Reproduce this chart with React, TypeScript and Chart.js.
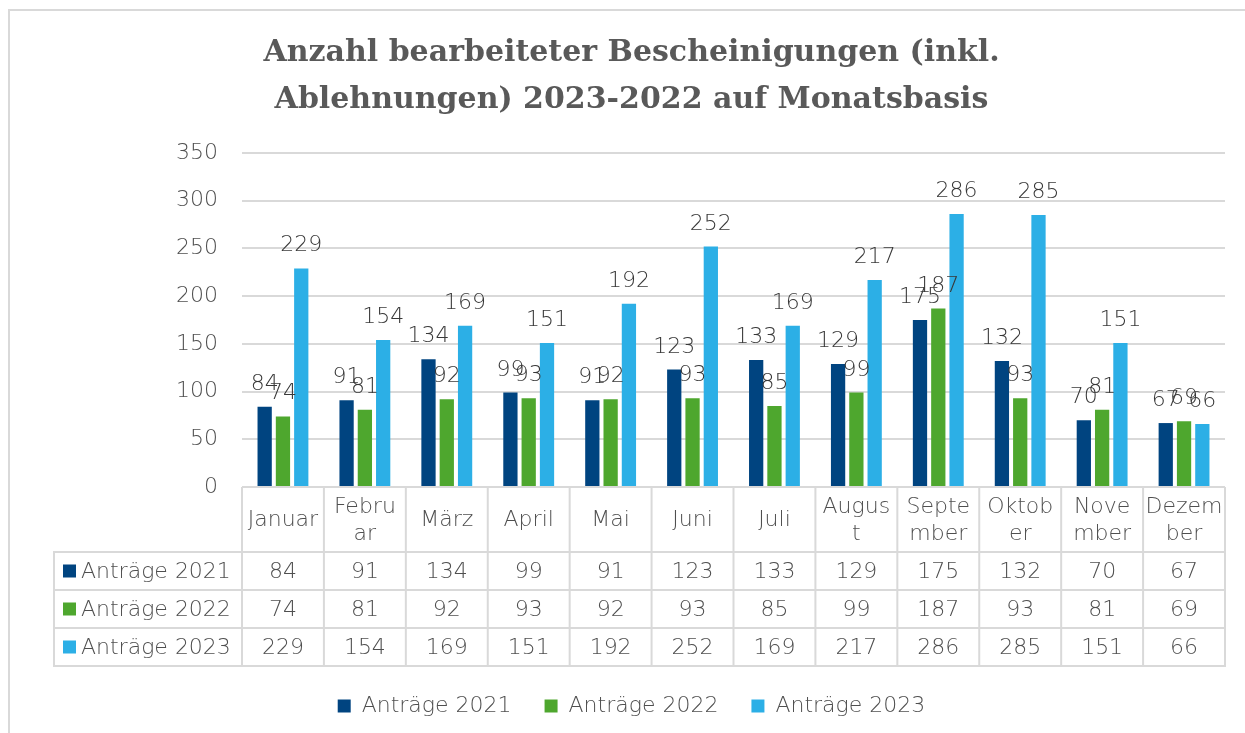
import React, { useEffect, useRef } from 'react';
import { Chart, registerables } from 'chart.js';

Chart.register(...registerables);

const titleLines = ['Anzahl bearbeiteter Bescheinigungen (inkl.', 'Ablehnungen) 2023-2022 auf Monatsbasis'];
const months = [
  ['Januar'], ['Febru', 'ar'], ['März'], ['April'], ['Mai'], ['Juni'], ['Juli'],
  ['Augus', 't'], ['Septe', 'mber'], ['Oktob', 'er'], ['Nove', 'mber'], ['Dezem', 'ber'],
];
const seriesNames = ['Anträge 2021', 'Anträge 2022', 'Anträge 2023'];
const antraege2021 = [84, 91, 134, 99, 91, 123, 133, 129, 175, 132, 70, 67];
const antraege2022 = [74, 81, 92, 93, 92, 93, 85, 99, 187, 93, 81, 69];
const antraege2023 = [229, 154, 169, 151, 192, 252, 169, 217, 286, 285, 151, 66];
const seriesColors = ['#004480', '#4ea72e', '#2cafe6'];
const yMin = 0;
const yMax = 350;
const yStep = 50;

const FONT = 'DejaVu Sans';
const W = '200';
const FS = 22;
const TEXT = '#4f4f4f';
const GRID = '#d9d9d9';
const HEADER_H = 65;
const ROW_H = 38;
const LABEL_COL = 188;

const dataLabelPlugin = {
  id: 'dataLabels',
  afterDatasetsDraw(chart: any) {
    const { ctx } = chart;
    ctx.save();
    ctx.font = `${W} ${FS}px "${FONT}"`;
    ctx.fillStyle = '#383838';
    ctx.textAlign = 'center';
    ctx.textBaseline = 'alphabetic';
    chart.data.datasets.forEach((ds: any, di: number) => {
      const meta = chart.getDatasetMeta(di);
      meta.data.forEach((bar: any, i: number) => {
        ctx.fillText(String(ds.data[i]), bar.x, bar.y - 17);
      });
    });
    ctx.restore();
  },
};

const dataTablePlugin = {
  id: 'dataTable',
  afterDraw(chart: any) {
    const { ctx, chartArea } = chart;
    const xs = chart.scales.x;
    const n = chart.data.labels.length;
    const centers: number[] = [];
    for (let i = 0; i < n; i++) centers.push(xs.getPixelForValue(i));
    const bounds = [chartArea.left];
    for (let i = 1; i < n; i++) bounds.push((centers[i - 1] + centers[i]) / 2);
    bounds.push(chartArea.right);
    const top = chartArea.bottom;
    const hb = top + HEADER_H;
    const tl = chartArea.left - LABEL_COL;
    const nr = chart.data.datasets.length;
    const bottom = hb + nr * ROW_H;
    ctx.save();
    ctx.strokeStyle = GRID;
    ctx.lineWidth = 2;
    ctx.beginPath();
    bounds.forEach((b) => {
      ctx.moveTo(b, top);
      ctx.lineTo(b, bottom);
    });
    ctx.moveTo(tl, hb);
    ctx.lineTo(tl, bottom);
    for (let r = 0; r <= nr; r++) {
      const y = hb + r * ROW_H;
      ctx.moveTo(tl - 1, y);
      ctx.lineTo(chartArea.right + 1, y);
    }
    ctx.stroke();
    ctx.font = `${W} ${FS}px "${FONT}"`;
    ctx.textBaseline = 'middle';
    chart.data.datasets.forEach((ds: any, r: number) => {
      const cy = hb + r * ROW_H + ROW_H / 2;
      ctx.fillStyle = ds.backgroundColor;
      ctx.fillRect(tl + 9, cy - 6.5, 13, 13);
      ctx.fillStyle = TEXT;
      ctx.textAlign = 'left';
      ctx.fillText(ds.label, tl + 27, cy + 1);
      ctx.textAlign = 'center';
      ds.data.forEach((v: number, i: number) => ctx.fillText(String(v), centers[i], cy + 1));
    });
    ctx.restore();
  },
};

export default function App() {
  const ref = useRef<HTMLCanvasElement | null>(null);

  useEffect(() => {
    if (!ref.current) return;
    const series = [antraege2021, antraege2022, antraege2023];
    const chart = new Chart(ref.current, {
      type: 'bar',
      data: {
        labels: months,
        datasets: series.map((d, i) => ({
          label: seriesNames[i],
          data: d,
          backgroundColor: seriesColors[i],
          borderWidth: 0,
          categoryPercentage: 0.67,
          barPercentage: 0.78,
        })),
      },
      options: {
        responsive: false,
        animation: false,
        devicePixelRatio: 1,
        layout: { padding: { top: 0, left: 38, right: 20, bottom: 6 } },
        plugins: {
          title: {
            display: true,
            text: titleLines,
            color: '#595959',
            font: { family: 'DejaVu Serif', size: 30, weight: 'bold', lineHeight: 47 / 30 },
            padding: { top: 30, bottom: 29 },
          },
          legend: {
            position: 'bottom',
            labels: {
              boxWidth: 13,
              boxHeight: 13,
              padding: 33,
              color: TEXT,
              font: { family: FONT, size: FS, weight: W },
            },
          },
          tooltip: { enabled: false },
        },
        scales: {
          x: {
            grid: { display: false },
            border: { display: false },
            ticks: {
              autoSkip: false,
              maxRotation: 0,
              minRotation: 0,
              padding: 12,
              crossAlign: 'center',
              color: TEXT,
              font: { family: FONT, size: FS, weight: W, lineHeight: 1.25 },
            },
            afterFit: (s: any) => {
              s.height = 175;
            },
          },
          y: {
            min: yMin,
            max: yMax,
            ticks: {
              stepSize: yStep,
              padding: 24,
              color: TEXT,
              font: { family: FONT, size: FS, weight: W },
            },
            grid: { color: GRID, lineWidth: 2, drawTicks: false },
            border: { display: false },
            afterFit: (s: any) => {
              s.width = 204;
            },
          },
        },
      } as any,
      plugins: [dataLabelPlugin, dataTablePlugin],
    });
    return () => chart.destroy();
  }, []);

  return (
    <div style={{ position: 'fixed', left: 0, top: 0, width: 1245, height: 733, overflow: 'hidden', background: '#fff' }}>
      <div
        style={{
          position: 'absolute',
          left: 8,
          top: 9,
          width: 1400,
          height: 900,
          border: `2px solid ${GRID}`,
          boxSizing: 'border-box',
        }}
      />
      <canvas
        ref={ref}
        width={1245}
        height={733}
        style={{ position: 'absolute', left: 0, top: 0, width: 1245, height: 733 }}
      />
    </div>
  );
}
